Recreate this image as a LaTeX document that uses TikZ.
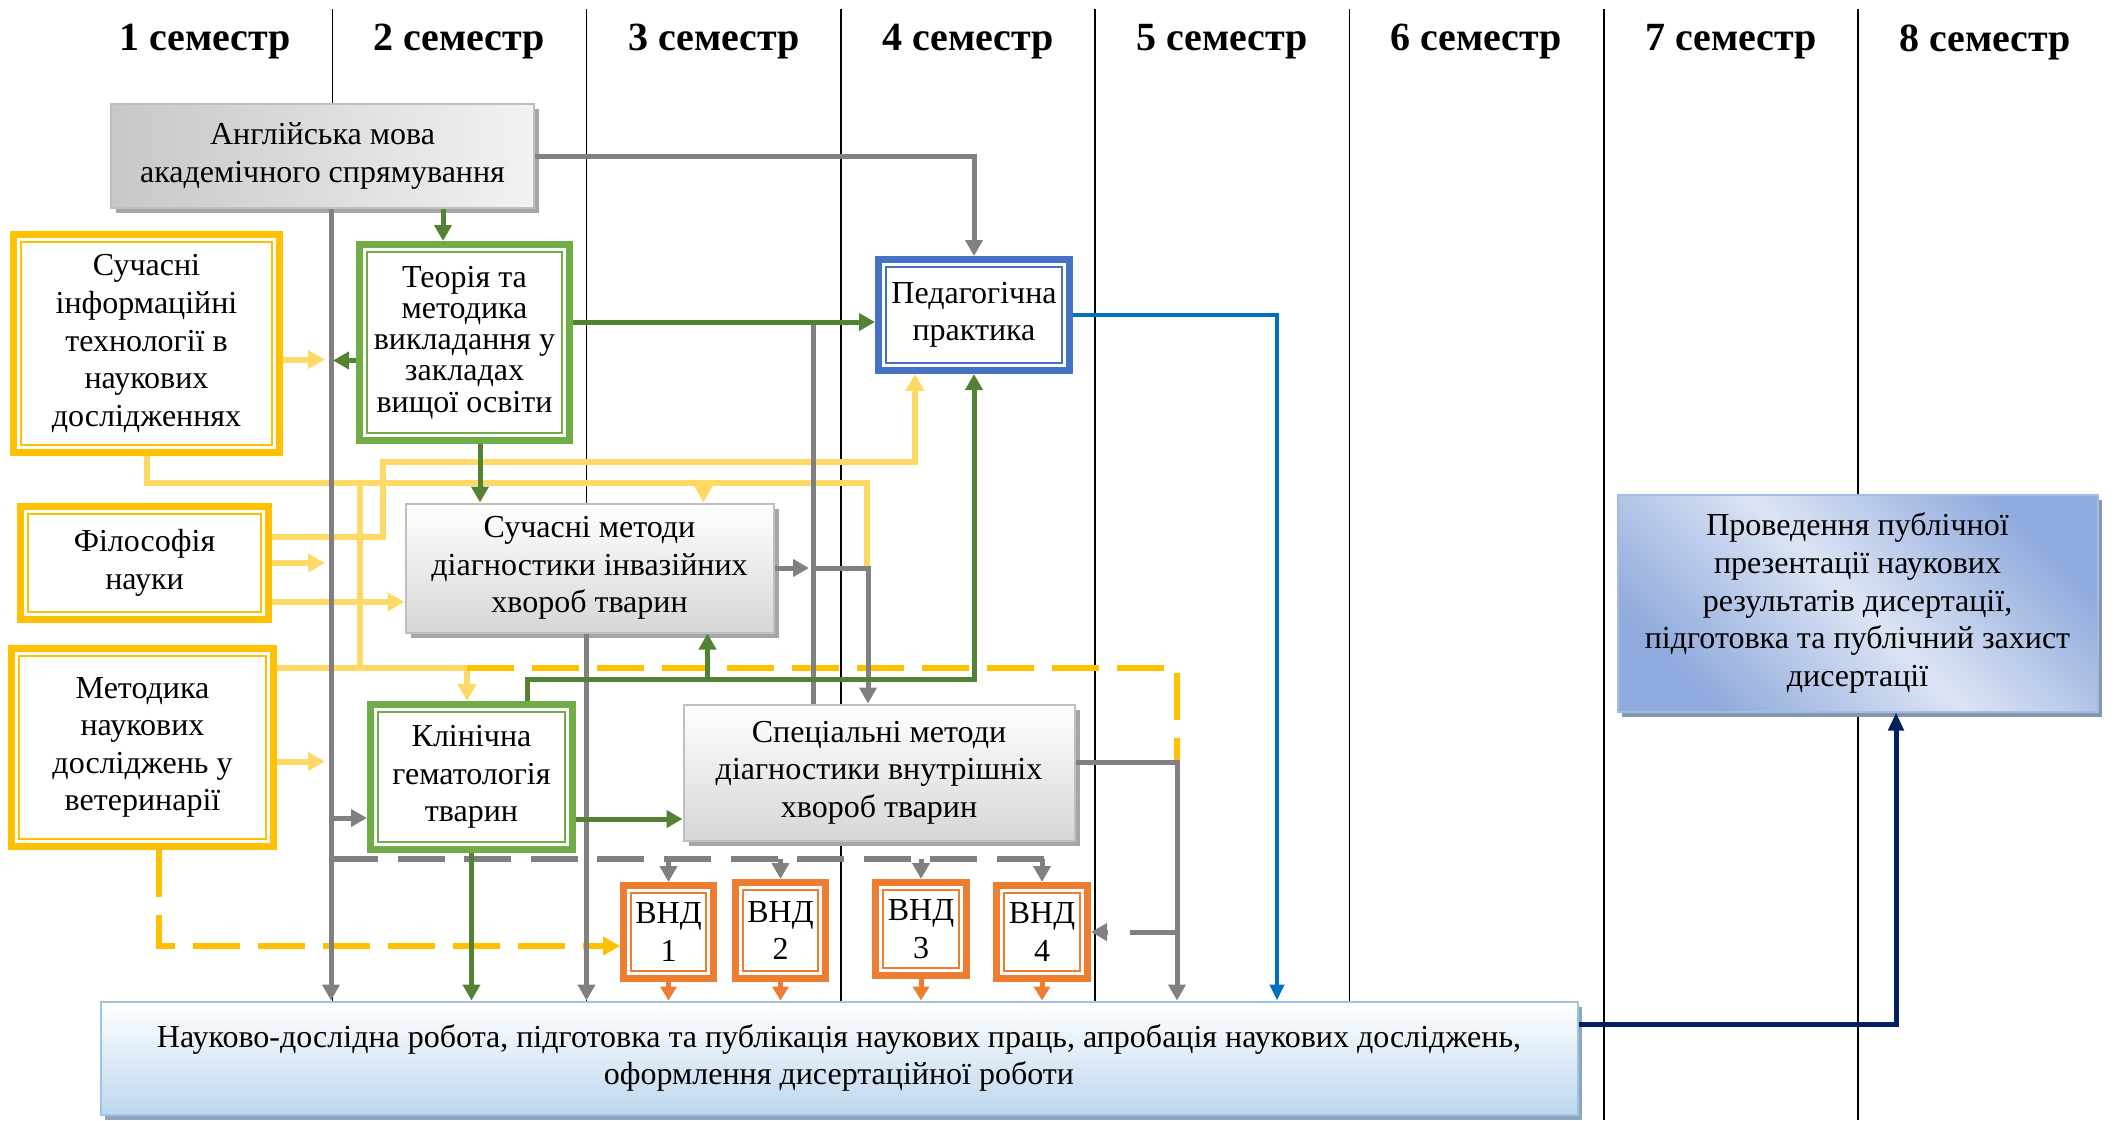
\documentclass[tikz,border=0pt]{standalone}
\usepackage{fontspec}
\setmainfont{Liberation Serif}
\usetikzlibrary{arrows.meta,shadows}
\definecolor{gold}{HTML}{FFC000}
\definecolor{lightgold}{HTML}{FFD966}
\definecolor{framegreen}{HTML}{70AD47}
\definecolor{darkgreen}{HTML}{548235}
\definecolor{frameblue}{HTML}{4472C4}
\definecolor{frameorange}{HTML}{ED7D31}
\definecolor{linegray}{HTML}{808080}
\definecolor{boxgray}{HTML}{BFBFBF}
\definecolor{shadowgray}{HTML}{A6A6A6}
\definecolor{practblue}{HTML}{0070C0}
\definecolor{navy}{HTML}{002060}
\definecolor{ndblue}{HTML}{BDD7EE}
\definecolor{ndborder}{HTML}{9DC3E6}
\definecolor{ndshadow}{HTML}{8FA5BE}
\definecolor{zahlight}{HTML}{DCE4F4}
\definecolor{zahdark}{HTML}{8FAADC}
\definecolor{zahshadow}{HTML}{8497B0}
\tikzset{
  frame/.style={draw=#1, line width=3.5pt, fill=white, inner sep=0pt, align=center,
    path picture={\draw[#1, line width=1pt]
      ([shift={(3.8pt,-3.8pt)}]path picture bounding box.north west) rectangle
      ([shift={(-3.8pt,3.8pt)}]path picture bounding box.south east);}},
  graybox/.style={draw=boxgray, line width=1pt, inner sep=0pt, align=center,
    drop shadow={shadow xshift=2.5pt, shadow yshift=-2.5pt, fill=shadowgray, opacity=1}},
  semlabel/.style={font=\fontsize{20}{24}\selectfont\bfseries},
  gline/.style={draw=linegray, line width=2.5pt},
  garrow/.style={gline, -{Triangle[length=8pt,width=8.5pt]}},
  gdash/.style={gline, line width=3pt, dash pattern=on 23.5pt off 9.8pt},
  grline/.style={draw=darkgreen, line width=2.5pt},
  grarrow/.style={grline, -{Triangle[length=8pt,width=8.5pt]}},
  yline/.style={draw=lightgold, line width=3pt},
  yarrow/.style={yline, -{Triangle[length=8.5pt,width=9pt]}},
  ydash/.style={draw=gold, line width=3pt, dash pattern=on 23.5pt off 9pt},
  oarrow/.style={draw=frameorange, line width=2.5pt, -{Triangle[length=7pt,width=8pt]}},
  barrow/.style={draw=practblue, line width=2pt, -{Triangle[length=8pt,width=7pt]}},
  narrow/.style={draw=navy, line width=2.5pt, -{Triangle[length=9pt,width=7.5pt]}}
}
\begin{document}
\begin{tikzpicture}[x=0.5pt,y=0.5pt,
  every node/.style={font=\fontsize{16}{18.8}\selectfont}]
\useasboundingbox (0,0) rectangle (2119,-1120);
% semesters
\draw (205,-42) node[semlabel] (h1) {1 семестр};
\draw (459,-42) node[semlabel] (h2) {2 семестр};
\draw (714,-42) node[semlabel] (h3) {3 семестр};
\draw (968,-42) node[semlabel] (h4) {4 семестр};
\draw (1222,-42) node[semlabel] (h5) {5 семестр};
\draw (1476,-42) node[semlabel] (h6) {6 семестр};
\draw (1731,-42) node[semlabel] (h7) {7 семестр};
\draw (1985,-42) node[semlabel] (h8) {8 семестр};
\draw [black, line width=0.75pt] (332.3,-9) -- (332.3,-1120);
\draw [black, line width=0.75pt] (586.6,-9) -- (586.6,-1120);
\draw [black, line width=0.75pt] (840.9,-9) -- (840.9,-1120);
\draw [black, line width=0.75pt] (1095.2,-9) -- (1095.2,-1120);
\draw [black, line width=0.75pt] (1349.5,-9) -- (1349.5,-1120);
\draw [black, line width=0.75pt] (1603.8,-9) -- (1603.8,-1120);
\draw [black, line width=0.75pt] (1858.1,-9) -- (1858.1,-1120);
% disciplines
\node[graybox, left color=black!22, right color=black!5, minimum width=211.5pt, minimum height=52pt]
  (eng) at (322.5,-156) {Англійська мова\\академічного спрямування};
\node[frame=gold, minimum width=133pt, minimum height=109pt]
  (sit) at (146.5,-343.5) {Сучасні\\інформаційні\\технології в\\наукових\\дослідженнях};
\node[frame=framegreen, minimum width=105pt, minimum height=98pt, font=\fontsize{16}{15.6}\selectfont]
  (teor) at (464.5,-342.5) {Теорія та\\методика\\викладання у\\закладах\\вищої освіти};
\node[frame=frameblue, minimum width=95.5pt, minimum height=55.5pt]
  (ped) at (974,-315) {Педагогічна\\практика};
\node[frame=gold, minimum width=124pt, minimum height=56.5pt]
  (fil) at (144.5,-563) {Філософія\\науки};
\node[frame=gold, minimum width=131pt, minimum height=99pt]
  (met) at (142.5,-747.5) {Методика\\наукових\\досліджень у\\ветеринарії};
\node[graybox, top color=white, bottom color=black!16, minimum width=184pt, minimum height=64.5pt]
  (inv) at (589.5,-568) {Сучасні методи\\діагностики інвазійних\\хвороб тварин};
\node[frame=framegreen, minimum width=101pt, minimum height=72.5pt]
  (klin) at (471.5,-777) {Клінічна\\гематологія\\тварин};
\node[graybox, top color=white, bottom color=black!16, minimum width=195.5pt, minimum height=68pt]
  (vnut) at (879,-772.5) {Спеціальні методи\\діагностики внутрішніх\\хвороб тварин};
\node[frame=frameorange, minimum width=45pt, minimum height=46.5pt] (vnd1) at (668.5,-932) {ВНД\\1};
\node[frame=frameorange, minimum width=45pt, minimum height=48pt] (vnd2) at (780.5,-930.5) {ВНД\\2};
\node[frame=frameorange, minimum width=45.5pt, minimum height=46.5pt] (vnd3) at (921,-929) {ВНД\\3};
\node[frame=frameorange, minimum width=45.5pt, minimum height=46.5pt] (vnd4) at (1042,-932) {ВНД\\4};
\node[draw=ndborder, line width=1pt, top color=white, bottom color=ndblue, align=center, inner sep=0pt,
  minimum width=738.5pt, minimum height=56.5pt,
  drop shadow={shadow xshift=2pt, shadow yshift=-2.5pt, fill=ndshadow, opacity=1}]
  (nd) at (839,-1058) {Науково-дослідна робота, підготовка та публікація наукових праць, апробація наукових досліджень,\\оформлення дисертаційної роботи};
\node[draw=zahdark!80, line width=1pt, top color=zahdark, bottom color=zahdark, middle color=zahlight,
  shading angle=-45, align=center, inner sep=0pt, minimum width=240pt, minimum height=108.5pt,
  drop shadow={shadow xshift=2pt, shadow yshift=-2.5pt, fill=zahshadow, opacity=1}]
  (zah) at (1857.5,-603) {Проведення публічної\\презентації наукових\\результатів дисертації,\\підготовка та публічний захист\\дисертації};
% branch points
\coordinate (busL) at (331,-209);
\coordinate (busM) at (813,-322);
\coordinate (busR) at (1177,-762);
\coordinate (vb) at (331,-859);
\coordinate (gk) at (968,-679);
\coordinate (yl) at (867,-483);
\coordinate (yv) at (360,-483);
\coordinate (yp) at (383,-462);
\coordinate (bl) at (1277,-315);
\coordinate (klinIn) at ([yshift=-20.5pt]klin.west);
\coordinate (klinOut) at ([yshift=-21pt]klin.east);
\coordinate (klinN) at ([xshift=28pt]klin.north);
\coordinate (klinTop) at ([xshift=-2.25pt]klin.north);
\coordinate (invOut) at ([xshift=-1.5pt]inv.south);
\coordinate (invUp) at ([xshift=59pt]inv.south);
\coordinate (invIn) at ([xshift=57pt]inv.north);
\coordinate (vnutIn) at ([xshift=-5.5pt]vnut.north);
\coordinate (teorIn) at ([xshift=-10.75pt]teor.north);
\coordinate (teorW) at ([yshift=-9pt]teor.west);
\coordinate (teorS) at ([xshift=7.75pt]teor.south);
\coordinate (sitE) at ([yshift=-8pt]sit.east);
\coordinate (filTop) at ([yshift=13pt]fil.east);
\coordinate (filBot) at ([yshift=-19.5pt]fil.east);
\coordinate (pedIn) at ([xshift=-29.5pt]ped.south);
\coordinate (metTop) at ([yshift=40pt]met.east);
\coordinate (metMid) at ([yshift=-7pt]met.east);
\coordinate (metS) at ([xshift=8pt]met.south);
\coordinate (vndIn) at ([yshift=-7pt]vnd1.west);
\coordinate (ndOut) at ([yshift=17pt]nd.east);
\coordinate (zahIn) at ([xshift=19.25pt]zah.south);
% yellow links
\draw[yarrow, shorten >=3pt] (sitE) -- (sitE -| busL);
\draw[yline] (sit.south) |- (yl) -- (yl |- inv.east);
\draw[yarrow] (invIn |- yl) -- (invIn);
\draw[yline] (yv) -- (yv |- metTop);
\draw[yarrow] (filTop) -| (yp) -| (pedIn);
\draw[yarrow, shorten >=3pt] (fil.east) -- (fil.east -| busL);
\draw[yarrow] (filBot) -- (filBot -| inv.west);
\draw[yarrow] (metTop) -| (klinTop);
\draw[yarrow, shorten >=3pt] (metMid) -- (metMid -| busL);
\draw[ydash] (klinTop |- metTop) -| (busR);
\draw[ydash, -{Triangle[length=8.5pt,width=9pt]}] (metS) |- (vndIn);
% gray links
\draw[garrow] (eng.east) -| (ped.north);
\draw[garrow] (busL) -- (busL |- nd.north);
\draw[garrow] (busL |- klinIn) -- (klinIn);
\draw[gdash] (vb) -- ([xshift=1.5pt]vb -| vnd4.north);
\draw[garrow] (vb -| vnd1.north) -- (vnd1.north);
\draw[garrow] (vb -| vnd2.north) -- (vnd2.north);
\draw[garrow] (vb -| vnd3.north) -- (vnd3.north);
\draw[garrow] (vb -| vnd4.north) -- (vnd4.north);
\draw[garrow] (invOut) -- (invOut |- nd.north);
\draw[gline] (busM) -- (busM |- vnut.north);
\draw[garrow, shorten >=2pt] (inv.east) -- (inv.east -| busM);
\draw[garrow] (inv.east -| busM) -| (vnutIn);
\draw[garrow] (vnut.east |- busR) -- (busR) -- (busR |- nd.north);
\draw[gline, dash pattern=on 23.5pt off 11pt, -{Triangle[length=8pt,width=8.5pt]}] (busR |- vnd4.east) -- (vnd4.east);
% green links
\draw[grarrow] (teorIn |- eng.south) -- (teorIn);
\draw[grarrow, shorten >=1pt] (teorW) -- (teorW -| busL);
\draw[grarrow] (teor.east |- busM) -- (busM -| ped.west);
\draw[grarrow] (teorS) -- (teorS |- inv.north);
\draw[grarrow] (klinN) |- (ped.south |- gk) -- (ped.south);
\draw[grarrow] (invUp |- gk) -- (invUp);
\draw[grarrow] (klinOut) -- (klinOut -| vnut.west);
\draw[grarrow] (klin.south) -- (klin.south |- nd.north);
% orange links
\draw[oarrow] (vnd1.south) -- (vnd1.south |- nd.north);
\draw[oarrow] (vnd2.south) -- (vnd2.south |- nd.north);
\draw[oarrow] (vnd3.south) -- (vnd3.south |- nd.north);
\draw[oarrow] (vnd4.south) -- (vnd4.south |- nd.north);
% practice and defence
\draw[barrow] (ped.east |- bl) -- (bl) -- (bl |- nd.north);
\draw[narrow] (ndOut) -| (zahIn);
\end{tikzpicture}
\end{document}
